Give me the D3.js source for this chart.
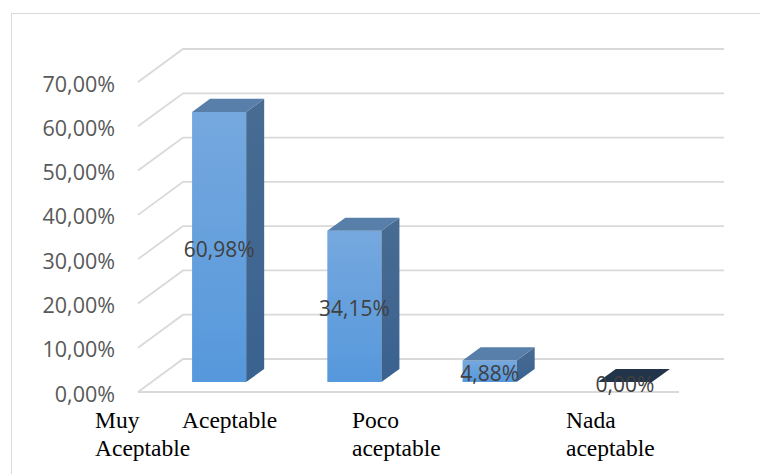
<!DOCTYPE html>
<html><head><meta charset="utf-8">
<script src="https://cdn.jsdelivr.net/npm/d3@7"></script>
<style>html,body{margin:0;padding:0;background:#fff;}svg{display:block;}</style>
</head><body>
<svg id="chart" width="760" height="474"></svg>
<script>
const categories = ["Muy Aceptable", "Aceptable", "Poco aceptable", "Nada aceptable"];
const values = [60.98, 34.15, 4.88, 0.00];
const valueLabels = ["60,98%", "34,15%", "4,88%", "0,00%"];
const yTicks = [0, 10, 20, 30, 40, 50, 60, 70];
const yTickLabels = ["0,00%", "10,00%", "20,00%", "30,00%", "40,00%", "50,00%", "60,00%", "70,00%"];
const categoryLines = [["Muy", "Aceptable"], ["Aceptable"], ["Poco", "aceptable"], ["Nada", "aceptable"]];

const svg = d3.select("#chart");
// frame
svg.append("rect").attr("x", 11.5).attr("y", 13.5).attr("width", 800).attr("height", 500)
  .attr("fill", "none").attr("stroke", "#d9d9d9").attr("stroke-width", 1);

const DX = 45, DY = 33; // depth offset
const x = d3.scaleBand().domain(d3.range(categories.length)).range([138, 679])
  .paddingInner(0.6).paddingOuter(0.3);
const y = d3.scaleLinear().domain([0, 70]).range([392, 82]);
const P = (px, v, d) => [px + DX * d, y(v) - DY * d];

const grid = svg.append("g").attr("stroke", "#d9d9d9").attr("stroke-width", 1.8).attr("fill", "none");
yTicks.forEach(t => {
  const a = P(138, t, 0), b = P(138, t, 1), c = P(679, t, 1);
  grid.append("path").attr("d", `M${a[0]},${a[1]}L${b[0]},${b[1]}L${c[0]},${c[1]}`);
});
// floor front edge
grid.append("line").attr("x1", 138).attr("x2", 679).attr("y1", y(0)).attr("y2", y(0));

// y labels
svg.append("g").selectAll("text").data(yTicks).join("text")
  .attr("x", 115).attr("y", t => y(t) + 1)
  .attr("text-anchor", "end").attr("dominant-baseline", "central")
  .attr("font-family", "'Open Sans', sans-serif").attr("font-size", 21.5).attr("fill", "#595959")
  .text((t, i) => yTickLabels[i]);

// gradient
const defs = svg.append("defs");
const gf = defs.append("linearGradient").attr("id", "gf").attr("x1", 0).attr("y1", 0).attr("x2", 0).attr("y2", 1);
gf.append("stop").attr("offset", "0%").attr("stop-color", "#75a8de");
gf.append("stop").attr("offset", "100%").attr("stop-color", "#5698dc");
const gs = defs.append("linearGradient").attr("id", "gs").attr("x1", 0).attr("y1", 0).attr("x2", 0).attr("y2", 1);
gs.append("stop").attr("offset", "0%").attr("stop-color", "#486c92");
gs.append("stop").attr("offset", "100%").attr("stop-color", "#3a6290");

const D0 = 0.3, D1 = 0.7;
const poly = pts => "M" + pts.map(p => p.join(",")).join("L") + "Z";
const bars = svg.append("g");
values.forEach((v, i) => {
  const x0 = x(i), x1 = x(i) + x.bandwidth();
  const g = bars.append("g");
  if (v > 0) {
    g.append("path").attr("fill", "url(#gf)")
      .attr("d", poly([P(x0, 0, D0), P(x1, 0, D0), P(x1, v, D0), P(x0, v, D0)]));
    g.append("path").attr("fill", "url(#gs)")
      .attr("d", poly([P(x1, 0, D0), P(x1, 0, D1), P(x1, v, D1), P(x1, v, D0)]));
    g.append("path").attr("fill", "#587fa9")
      .attr("d", poly([P(x0, v, D0), P(x1, v, D0), P(x1, v, D1), P(x0, v, D1)]));
  } else {
    g.append("path").attr("fill", "#22344a")
      .attr("d", poly([P(x0, v, D0), P(x1, v, D0), P(x1, v, D1), P(x0, v, D1)]));
  }
});

// value labels
svg.append("g").selectAll("text").data(values).join("text")
  .attr("x", (v, i) => P(x(i) + x.bandwidth() / 2, 0, D0)[0])
  .attr("y", (v, i) => (P(0, 0, D0)[1] + P(0, v, D0)[1]) / 2 + 2)
  .attr("text-anchor", "middle").attr("dominant-baseline", "central")
  .attr("font-family", "'Open Sans', sans-serif").attr("font-size", 21).attr("fill", "#404040")
  .text((v, i) => valueLabels[i]);

// category labels (as placed in the original)
const catX = [95, 182, 352, 566];
const cat = svg.append("g").attr("font-family", "'Liberation Serif', 'Times New Roman', serif")
  .attr("font-size", 23.5).attr("fill", "#000");
categoryLines.forEach((lines, i) => {
  lines.forEach((ln, j) => {
    cat.append("text").attr("x", catX[i]).attr("y", 428 + j * 27.5).text(ln);
  });
});
</script>
</body></html>
